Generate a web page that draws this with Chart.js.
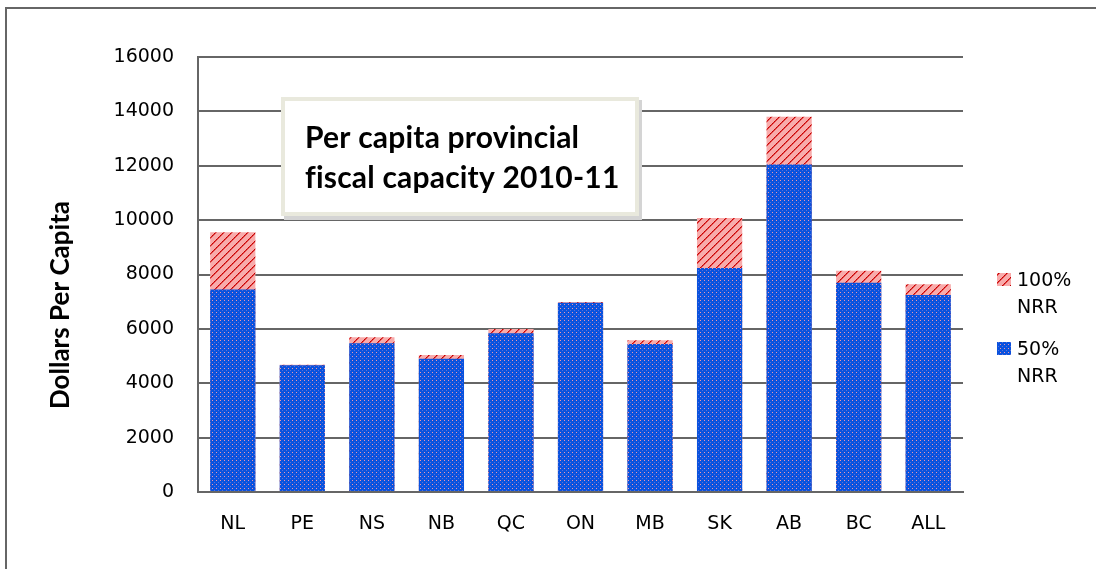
<!DOCTYPE html>
<html>
<head>
<meta charset="utf-8">
<title>Per capita provincial fiscal capacity 2010-11</title>
<script src="https://cdn.jsdelivr.net/npm/chart.js@4.4.1/dist/chart.umd.min.js"></script>
<style>
  html, body { margin: 0; padding: 0; background: #fff; }
  #wrap { width: 1096px; height: 569px; position: relative; }
</style>
</head>
<body>
<div id="wrap"><canvas id="cChart" width="1096" height="569"></canvas></div>
<script>
var provinces = ['NL', 'PE', 'NS', 'NB', 'QC', 'ON', 'MB', 'SK', 'AB', 'BC', 'ALL'];
// fiscal capacity with 50% of natural resource revenue
var nrr50 = [7450, 4660, 5470, 4900, 5840, 6960, 5440, 8240, 12050, 7700, 7250];
// fiscal capacity with 100% of natural resource revenue
var nrr100 = [9550, 4680, 5690, 5040, 5995, 6990, 5580, 10080, 13800, 8140, 7640];
var yTicks = [0, 2000, 4000, 6000, 8000, 10000, 12000, 14000, 16000];

var titleLines = ['Per capita provincial', 'fiscal capacity 2010-11'];
var yTitle = 'Dollars Per Capita';
var legendItems = [
  { lines: ['100%', 'NRR'], series: 1 },
  { lines: ['50%', 'NRR'], series: 0 }
];

function makeTile(size, paint) {
  var c = document.createElement('canvas');
  c.width = size; c.height = size;
  paint(c.getContext('2d'));
  return document.createElement('canvas').getContext('2d').createPattern(c, 'repeat');
}

// blue check with pink dots
var bluePattern = makeTile(4, function(g) {
  g.fillStyle = '#0a52de';
  g.fillRect(0, 0, 4, 4);
  g.fillStyle = '#ee98aa';
  g.fillRect(0, 0, 1, 1);
  g.fillStyle = '#5a72d8';
  g.fillRect(2, 2, 1, 1);
});

// pink with red dotted diagonals
var redPattern = makeTile(8, function(g) {
  g.fillStyle = '#f8abab';
  g.fillRect(0, 0, 8, 8);
  for (var i = 0; i < 8; i++) {
    g.fillStyle = (i % 2 == 0) ? '#c00000' : '#d81818';
    g.fillRect(i, 7 - i, 1, 1);
    g.fillStyle = '#e24c4c';
    g.fillRect((i + 1) % 8, 7 - i, 1, 1);
  }
});

var seriesFill = [bluePattern, redPattern];

var framePlugin = {
  id: 'frame',
  beforeDraw: function(chart) {
    var ctx = chart.ctx;
    ctx.save();
    ctx.fillStyle = '#fff';
    ctx.fillRect(0, 0, chart.width, chart.height);
    ctx.strokeStyle = '#666';
    ctx.lineWidth = 2;
    ctx.beginPath();
    ctx.moveTo(6, chart.height);
    ctx.lineTo(6, 8);
    ctx.lineTo(chart.width, 8);
    ctx.stroke();
    ctx.restore();
  },
  afterDraw: function(chart) {
    var ctx = chart.ctx;
    ctx.save();
    // y axis title, sits a bit below the middle of the axis
    ctx.save();
    ctx.translate(61, 305);
    ctx.rotate(-Math.PI / 2);
    ctx.fillStyle = '#000';
    ctx.font = 'bold 26px Lato, "Open Sans", sans-serif';
    ctx.textAlign = 'center';
    ctx.textBaseline = 'middle';
    ctx.fillText(yTitle, 0, 0);
    ctx.restore();

    // title box
    ctx.fillStyle = '#d4d4d4';
    ctx.fillRect(284, 100, 358, 120);
    ctx.fillStyle = '#fff';
    ctx.fillRect(281, 97, 358, 119);
    ctx.strokeStyle = '#e9e9dd';
    ctx.lineWidth = 4;
    ctx.strokeRect(283, 99, 354, 115);
    ctx.fillStyle = '#000';
    ctx.font = 'bold 30px Lato, "Open Sans", sans-serif';
    ctx.letterSpacing = '0.2px'; // keeps "fi" from turning into a ligature
    ctx.textBaseline = 'alphabetic';
    ctx.fillText(titleLines[0], 305, 148);
    ctx.fillText(titleLines[1], 305, 188);
    ctx.letterSpacing = '0px';

    // legend
    ctx.font = '19px "DejaVu Sans", sans-serif';
    var y0 = [273, 342];
    legendItems.forEach(function(item, k) {
      ctx.fillStyle = seriesFill[item.series];
      ctx.fillRect(997, y0[k], 14, 13);
      ctx.fillStyle = '#000';
      ctx.fillText(item.lines[0], 1017, y0[k] + 13);
      ctx.fillText(item.lines[1], 1017, y0[k] + 40);
    });
    ctx.restore();
  }
};

var ctx = document.getElementById('cChart');
var chartInstance = new Chart(ctx, {
  type: 'bar',
  data: {
    labels: provinces,
    datasets: [
      {
        label: '50% NRR',
        data: nrr50,
        backgroundColor: bluePattern,
        borderWidth: 0
      },
      {
        label: '100% NRR',
        data: nrr100,
        backgroundColor: redPattern,
        borderWidth: 0
      }
    ]
  },
  options: {
    responsive: false,
    animation: false,
    events: [],
    categoryPercentage: 1,
    barPercentage: 0.65,
    layout: { padding: { top: 57, right: 133, bottom: 0, left: 0 } },
    plugins: {
      legend: { display: false },
      tooltip: { enabled: false }
    },
    scales: {
      x: {
        stacked: true,
        grid: { display: false },
        border: { display: true, color: '#666', width: 2 },
        ticks: {
          color: '#000',
          padding: 13,
          font: { family: '"DejaVu Sans", sans-serif', size: 19 }
        },
        afterFit: function(scale) { scale.height = 77; }
      },
      y: {
        min: 0,
        max: 16000,
        afterBuildTicks: function(scale) {
          scale.ticks = yTicks.map(function(v) { return { value: v }; });
        },
        grid: { color: '#666', lineWidth: 2, drawTicks: false },
        border: { display: true, color: '#666', width: 2 },
        ticks: {
          color: '#000',
          padding: 24,
          font: { family: '"DejaVu Sans", sans-serif', size: 19 },
          callback: function(v) { return String(v); }
        },
        afterFit: function(scale) { scale.width = 198; }
      }
    }
  },
  plugins: [framePlugin]
});
</script>
</body>
</html>
